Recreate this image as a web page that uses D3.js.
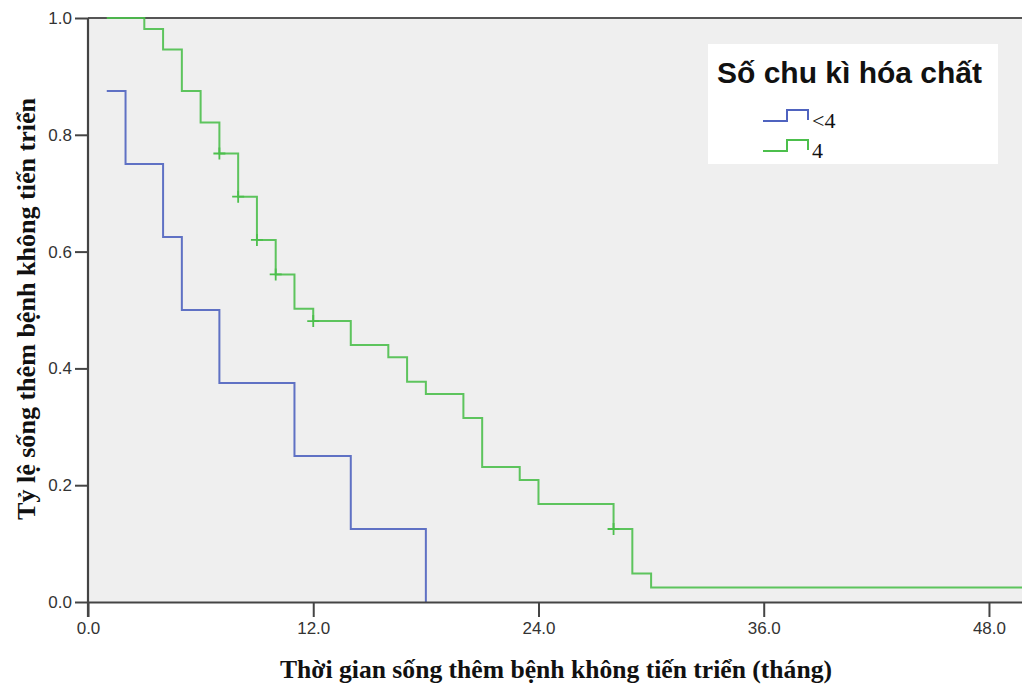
<!DOCTYPE html>
<html>
<head>
<meta charset="utf-8">
<script src="https://cdn.jsdelivr.net/npm/d3@7"></script>
<style>
  html, body { margin: 0; padding: 0; background: #ffffff; }
  svg { display: block; }
</style>
</head>
<body>
<svg id="chart" width="1022" height="687"></svg>
<script>
// Kaplan–Meier progression-free survival by number of chemotherapy cycles
const groupNames = ["<4", "4"];
const groupColors = ["#4f63bf", "#4cbf4c"];

// Group "<4": event times (months) and survival after each event
const timesLt4 = [1, 2, 4, 5, 7, 11, 14, 18];
const survLt4 = [0.875, 0.75, 0.625, 0.5, 0.375, 0.25, 0.125, 0];
const censorTimesLt4 = [];
const censorSurvLt4 = [];

// Group "4"
const times4 = [1, 3, 4, 5, 6, 7, 8, 9, 10, 11, 12, 14, 16, 17, 18, 20, 21, 23, 24, 28, 29, 30, 50];
const surv4 = [1.0, 0.981, 0.946, 0.875, 0.821, 0.768, 0.694, 0.620, 0.561, 0.502, 0.481, 0.440, 0.419, 0.377, 0.356, 0.315, 0.231, 0.209, 0.168, 0.125, 0.049, 0.025, 0.025];
const censorTimes4 = [7, 8, 9, 10, 12, 28];
const censorSurv4 = [0.768, 0.694, 0.620, 0.561, 0.481, 0.125];

const xTicks = [0, 12, 24, 36, 48];
const yTicks = [0, 0.2, 0.4, 0.6, 0.8, 1.0];

const xTitle = "Thời gian sống thêm bệnh không tiến triển (tháng)";
const yTitle = "Tỷ lệ sống thêm bệnh không tiến triển";
const legendTitle = "Số chu kì hóa chất";

const svg = d3.select("#chart");
const plot = { left: 88, right: 1022, top: 18, bottom: 602 };

const x = d3.scaleLinear().domain([0, 49.76]).range([plot.left, plot.right]);
const y = d3.scaleLinear().domain([0, 1]).range([plot.bottom, plot.top]);

// plot background
svg.append("rect")
  .attr("x", plot.left).attr("y", plot.top)
  .attr("width", plot.right - plot.left).attr("height", plot.bottom - plot.top)
  .attr("fill", "#efefef");

// top frame line
svg.append("line")
  .attr("x1", plot.left).attr("x2", plot.right)
  .attr("y1", plot.top).attr("y2", plot.top)
  .attr("stroke", "#555").attr("stroke-width", 2);

// survival curves
svg.append("defs").append("clipPath").attr("id", "plotclip")
  .append("rect")
  .attr("x", plot.left).attr("y", plot.top - 2)
  .attr("width", plot.right - plot.left).attr("height", plot.bottom - plot.top + 4);

const line = d3.line()
  .x(d => x(d[0]))
  .y(d => y(d[1]))
  .curve(d3.curveStepAfter);

const curves = [
  { times: timesLt4, surv: survLt4, ct: censorTimesLt4, cs: censorSurvLt4, color: groupColors[0] },
  { times: times4, surv: surv4, ct: censorTimes4, cs: censorSurv4, color: groupColors[1] }
];

const g = svg.append("g").attr("clip-path", "url(#plotclip)");
curves.forEach(c => {
  const pts = d3.zip(c.times, c.surv);
  g.append("path")
    .attr("d", line(pts))
    .attr("fill", "none")
    .attr("stroke", c.color)
    .attr("stroke-width", 2)
    .attr("stroke-opacity", 0.9);
  const cens = d3.zip(c.ct, c.cs);
  g.selectAll(null).data(cens).enter().append("path")
    .attr("d", d => {
      const cx = x(d[0]), cy = y(d[1]), r = 6;
      return `M${cx - r},${cy}H${cx + r}M${cx},${cy - r}V${cy + r}`;
    })
    .attr("stroke", c.color)
    .attr("stroke-width", 1.8)
    .attr("fill", "none");
});

// axes
const fmt = d3.format(".1f");
const yAxis = svg.append("g")
  .attr("transform", `translate(${plot.left},0)`)
  .call(d3.axisLeft(y).tickValues(yTicks).tickFormat(fmt).tickSize(13).tickSizeOuter(0).tickPadding(3));
const xAxis = svg.append("g")
  .attr("transform", `translate(0,${plot.bottom})`)
  .call(d3.axisBottom(x).tickValues(xTicks).tickFormat(fmt).tickSize(15).tickSizeOuter(0).tickPadding(5));

[yAxis, xAxis].forEach(a => {
  a.select(".domain").attr("stroke", "#444").attr("stroke-width", 2.2);
  a.selectAll(".tick line").attr("stroke", "#444").attr("stroke-width", 2);
  a.selectAll(".tick text")
    .attr("fill", "#333")
    .style("font-family", "'Liberation Sans', Arial, sans-serif")
    .style("font-size", "17px");
});
// extend vertical axis line through the x-axis tick at zero
yAxis.select(".domain").attr("d", `M0,${plot.top}V${plot.bottom + 15}`);

// axis titles
svg.append("text")
  .attr("x", 556).attr("y", 678)
  .attr("text-anchor", "middle")
  .attr("textLength", 552)
  .attr("lengthAdjust", "spacingAndGlyphs")
  .style("font-family", "'Liberation Serif', 'Times New Roman', serif")
  .style("font-weight", "bold")
  .style("font-size", "25px")
  .attr("fill", "#111")
  .text(xTitle);

svg.append("text")
  .attr("transform", "translate(35,309) rotate(-90)")
  .attr("text-anchor", "middle")
  .attr("textLength", 422)
  .attr("lengthAdjust", "spacingAndGlyphs")
  .style("font-family", "'Liberation Serif', 'Times New Roman', serif")
  .style("font-weight", "bold")
  .style("font-size", "25px")
  .attr("fill", "#111")
  .text(yTitle);

// legend
const lg = svg.append("g");
lg.append("rect")
  .attr("x", 708).attr("y", 44).attr("width", 290).attr("height", 120)
  .attr("fill", "#ffffff");
lg.append("text")
  .attr("x", 717).attr("y", 83)
  .style("font-family", "'Liberation Sans', Arial, sans-serif")
  .style("font-weight", "bold")
  .style("font-size", "30px")
  .attr("fill", "#111")
  .text(legendTitle);

const legendRows = [121, 151];
groupNames.forEach((name, i) => {
  const by = legendRows[i];
  lg.append("path")
    .attr("d", `M763,${by}H787V${by - 11}H808V${by - 1}`)
    .attr("fill", "none")
    .attr("stroke", groupColors[i])
    .attr("stroke-width", 2);
  lg.append("text")
    .attr("x", 812).attr("y", by + 7)
    .style("font-family", "'Liberation Serif', 'Times New Roman', serif")
    .style("font-size", "22px")
    .attr("fill", "#111")
    .text(name);
});
</script>
</body>
</html>
